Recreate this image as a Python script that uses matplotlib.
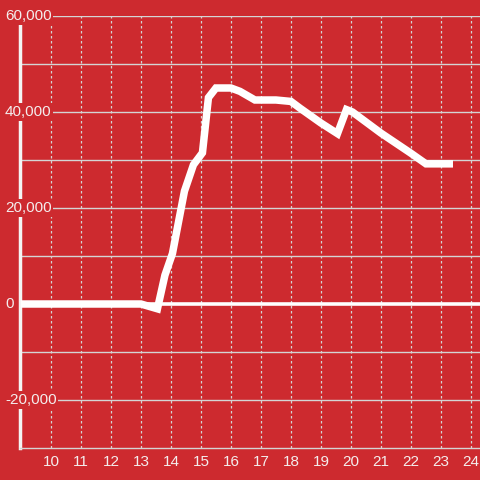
import matplotlib
matplotlib.use("Agg")
import matplotlib.pyplot as plt

BG = "#cd2a2f"
GRID = "#d4d4d4"
TXT = "#f4eded"

hours = [9.0, 13.0, 13.55, 13.8, 14.05, 14.45, 14.75, 15.05, 15.25, 15.5,
         16.0, 16.3, 16.8, 17.5, 18.0, 18.3, 19.0, 19.55, 19.85, 20.05,
         21.0, 22.0, 22.5, 23.4]
values = [0, 0, -1000, 6000, 10500, 23500, 29000, 31500, 43000, 45000,
          45000, 44300, 42500, 42500, 42200, 40800, 37700, 35500, 40500, 40000,
          35600, 31400, 29200, 29200]

x_ticks = list(range(10, 25))
y_labels = [60000, 40000, 20000, 0, -20000]
y_grid = [-20000, -10000, 10000, 20000, 30000, 40000, 50000, 60000]

fig = plt.figure(figsize=(4.8, 4.8), dpi=100, facecolor=BG)
ax = fig.add_axes([20 / 480, 32 / 480, 460 / 480, 432 / 480], facecolor=BG)
ax.set_xlim(8.97, 24.3)
ax.set_ylim(-30000, 60000)

for s in ["top", "right"]:
    ax.spines[s].set_visible(False)
ax.spines["left"].set_color("#f4f4f4")
ax.spines["left"].set_linewidth(2.5)
ax.spines["bottom"].set_color(GRID)
ax.spines["bottom"].set_linewidth(1)

# grid
for y in y_grid:
    ax.axhline(y, color=GRID, lw=1, zorder=1)
for x in x_ticks:
    ax.axvline(x, color=GRID, lw=0.9, ls=(0, (2, 2)), zorder=1)
ax.axhline(0, color="white", lw=2.6, zorder=2)

ax.plot(hours, values, color="white", lw=5.4, solid_joinstyle="miter",
        solid_capstyle="butt", zorder=3)

ax.set_yticks([])
ax.set_xticks(x_ticks)
ax.set_xticklabels([str(t) for t in x_ticks], color=TXT, fontsize=11,
                   family="Liberation Sans")
ax.tick_params(axis="x", length=0, pad=5)

for y in y_labels:
    ax.text(-15 / 460, y, f"{y:,}", transform=ax.get_yaxis_transform(),
            ha="left", va="center", color=TXT, fontsize=11,
            family="Liberation Sans", zorder=10, clip_on=False,
            bbox=dict(boxstyle="square,pad=0.12", fc=BG, ec="none"))

fig.savefig("out.png", dpi=100, facecolor=BG)
